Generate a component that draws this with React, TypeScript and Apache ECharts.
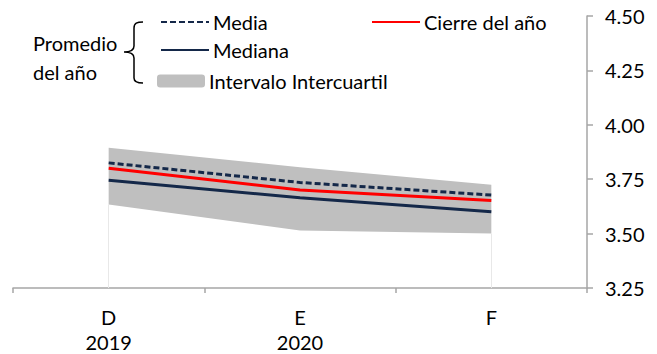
import React, { useEffect, useRef } from "react";
import * as echarts from "echarts";

const categories = ["D\n2019", "E\n2020", "F"];
const mediaValues = [3.825, 3.735, 3.677];
const cierreValues = [3.8, 3.7, 3.652];
const medianaValues = [3.745, 3.665, 3.6];
const q1Values = [3.634, 3.514, 3.5];
const q3Values = [3.895, 3.805, 3.725];
const yTicks = { min: 3.25, max: 4.5, interval: 0.25 };

const FONT = "Lato";
const FS = 20;
const NAVY = "#142849";

let braceRegistered = false;
function registerBrace() {
  if (braceRegistered) return;
  const d =
    "M143,22 C137,22 134,23 134,28 L134,46 C134,50 131,52 124,52 C131,52 134,54 134,58 L134,78 C134,82 137,83 143,83";
  echarts.graphic.registerShape("brace", echarts.graphic.extendPath(d, {}));
  braceRegistered = true;
}

export default function App() {
  const ref = useRef<HTMLDivElement>(null);
  useEffect(() => {
    if (!ref.current) return;
    registerBrace();
    const chart = echarts.init(ref.current, null, { renderer: "svg" });
    const bandDiff = q3Values.map((v, i) => +(v - q1Values[i]).toFixed(4));
    const legendBase = {
      orient: "horizontal" as const,
      padding: 0,
      itemWidth: 48,
      itemHeight: 14,
      itemGap: 0,
      selectedMode: false,
      textStyle: { fontFamily: FONT, fontSize: FS, color: "#000", padding: [0, 0, 0, -1] },
    };
    const lineLegendItem = { opacity: 0, borderWidth: 0 };
    chart.setOption({
      animation: false,
      backgroundColor: "#fff",
      grid: { left: 13, right: 70, top: 16, bottom: 59, containLabel: false },
      legend: [
        { ...legendBase, data: ["Media"], left: 160, top: 12, itemStyle: lineLegendItem },
        { ...legendBase, data: ["Cierre del año"], left: 371, top: 12, itemStyle: lineLegendItem },
        { ...legendBase, data: ["Mediana"], left: 160, top: 40, itemStyle: lineLegendItem },
        {
          ...legendBase,
          data: [{ name: "Intervalo Intercuartil", icon: "roundRect", itemStyle: { color: "#bfbfbf" } }],
          itemHeight: 13,
          left: 157,
          top: 71,
        },
      ],
      xAxis: {
        type: "category",
        data: categories,
        boundaryGap: true,
        axisLine: { show: true, lineStyle: { color: "#a6a6a6", width: 1.5 } },
        axisTick: { show: true, length: 5, lineStyle: { color: "#a6a6a6", width: 1.5 } },
        axisLabel: {
          color: "#000",
          fontFamily: FONT,
          fontSize: FS,
          lineHeight: 25,
          margin: 16,
        },
        splitLine: { show: false },
      },
      yAxis: {
        type: "value",
        position: "right",
        min: yTicks.min,
        max: yTicks.max,
        interval: yTicks.interval,
        axisLine: { show: true, lineStyle: { color: "#a6a6a6", width: 1.5 } },
        axisTick: { show: true, inside: false, length: 6, lineStyle: { color: "#a6a6a6", width: 1.5 } },
        axisLabel: {
          color: "#000",
          fontFamily: FONT,
          fontSize: FS,
          margin: 18,
          formatter: (v: number) => v.toFixed(2),
        },
        splitLine: { show: false },
      },
      series: [
        {
          name: "q1",
          type: "line",
          stack: "band",
          data: q1Values,
          symbol: "none",
          lineStyle: { width: 0, opacity: 0 },
          silent: true,
          z: 1,
          markLine: {
            silent: true,
            symbol: "none",
            label: { show: false },
            lineStyle: { color: "#e8e8e8", width: 1, type: "solid" },
            data: [
              [{ coord: [0, yTicks.min] }, { coord: [0, q1Values[0]] }],
              [{ coord: [2, yTicks.min] }, { coord: [2, q1Values[2]] }],
            ],
          },
        },
        {
          name: "Intervalo Intercuartil",
          type: "line",
          stack: "band",
          data: bandDiff,
          symbol: "none",
          color: "#bfbfbf",
          itemStyle: { color: "#bfbfbf" },
          lineStyle: { width: 0, opacity: 0 },
          areaStyle: { color: "#bfbfbf", opacity: 1 },
          z: 2,
        },
        {
          name: "Mediana",
          type: "line",
          data: medianaValues,
          symbol: "none",
          color: NAVY,
          lineStyle: { color: NAVY, width: 3 },
          z: 3,
        },
        {
          name: "Cierre del año",
          type: "line",
          data: cierreValues,
          symbol: "none",
          color: "#ff0000",
          lineStyle: { color: "#ff0000", width: 3 },
          z: 4,
        },
        {
          name: "Media",
          type: "line",
          data: mediaValues,
          symbol: "none",
          color: NAVY,
          lineStyle: { color: NAVY, width: 3, type: [6, 3] },
          z: 5,
        },
      ],
      graphic: [
        {
          type: "text",
          x: 33,
          y: 43,
          style: { text: "Promedio", fontFamily: FONT, fontSize: FS, fill: "#000", verticalAlign: "middle" },
        },
        {
          type: "text",
          x: 33,
          y: 72,
          style: { text: "del año", fontFamily: FONT, fontSize: FS, fill: "#000", verticalAlign: "middle" },
        },
        {
          type: "brace",
          x: 0,
          y: 0,
          style: { fill: "none", stroke: "#000", lineWidth: 1.5 },
        },
      ],
    });
    return () => chart.dispose();
  }, []);
  return (
    <div
      ref={ref}
      style={{ position: "fixed", left: 0, top: 0, width: 657, height: 354, background: "#fff" }}
    />
  );
}
